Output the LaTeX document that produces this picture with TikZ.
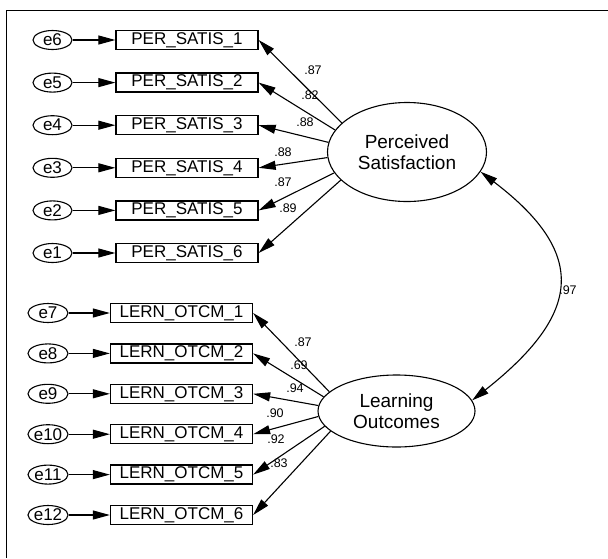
\documentclass[tikz,border=0pt]{standalone}
\usepackage{fontspec}
\setmainfont{Liberation Sans}
\usetikzlibrary{shapes.geometric,arrows.meta}

\begin{document}
\begin{tikzpicture}[x=1pt,y=-1pt,
	obs/.style={draw,line width=1.3pt,minimum width=142pt,minimum height=19pt,inner sep=0pt,font=\fontsize{17}{17}\selectfont},
	err/.style={draw,ellipse,line width=1.1pt,minimum width=39pt,minimum height=19pt,inner sep=0pt,font=\fontsize{17}{17}\selectfont},
	lat/.style={draw,ellipse,line width=1.1pt,inner sep=0pt,align=center,font=\fontsize{19}{21}\selectfont},
	arr/.style={line width=1.1pt,-{Triangle[length=17pt,width=9pt]}},
	coef/.style={inner sep=0pt,font=\fontsize{12.5}{12.5}\selectfont}]
			\useasboundingbox (0,0) rectangle (608,558);
			\draw[line width=1.2pt] (608,10.5)--(6.5,10.5)--(6.5,558);
			% latent variables
			\node[lat,minimum width=159pt,minimum height=99pt] (ps) at (407,152) {Perceived\\Satisfaction};
			\node[lat,minimum width=157pt,minimum height=72pt] (lo) at (396.5,411) {Learning\\Outcomes};
			% perceived satisfaction items
			\foreach \i/\e/\ang/\c/\lx/\ly in {1/6/156/.87/313/70,2/5/163/.82/310/95,3/4/173/.88/305/122,4/3/184/.88/283/152,5/2/196/.87/283/182,6/1/203/.89/288/208}{
			\node[obs] (per\i) at (187,{40+42.6*(\i-1)}) {PER\_SATIS\_\i};
			\node[err] (e\e) at (52.5,{40+42.6*(\i-1)}) {e\e};
			\draw[arr] (e\e)--(per\i);
			\draw[arr] (ps.\ang)--(per\i.east);
			\node[coef] (lps\i) at (\lx,\ly) {\c};
			}
			% learning outcomes items
			\foreach \i/\e/\ang/\c/\lx/\ly in {1/7/164/.87/303/342,2/8/169/.69/299/365,3/9/176/.94/295/388,4/10/184/.90/275/413,5/11/192/.92/276/439,6/12/197/.83/279/463}{
			\node[obs] (lrn\i) at (181.5,{313+40.4*(\i-1)}) {LERN\_OTCM\_\i};
			\node[err,minimum width=40pt] (e\e) at (48,{313+40.4*(\i-1)}) {e\e};
			\draw[arr] (e\e)--(lrn\i);
			\draw[arr] (lo.\ang)--(lrn\i.east);
			\node[coef] (llo\i) at (\lx,\ly) {\c};
			}
			% correlation
			\draw[line width=1.1pt,{Triangle[length=17pt,width=9pt]}-{Triangle[length=17pt,width=9pt]}] (ps.-15) .. controls (590,255) and (580,315) .. (lo.8);
			\node[coef] (rho) at (568,290) {.97};
		\end{tikzpicture}
\end{document}
